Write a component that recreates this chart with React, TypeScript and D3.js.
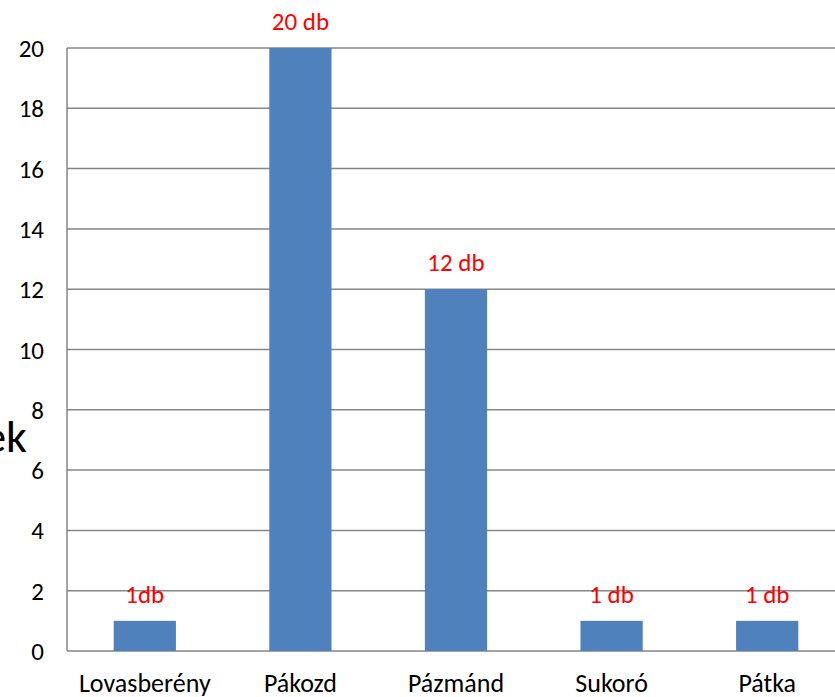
import React from "react";
import * as d3 from "d3";

const categories = ["Lovasberény", "Pákozd", "Pázmánd", "Sukoró", "Pátka"];
const values = [1, 20, 12, 1, 1];
const dataLabels = ["1db", "20 db", "12 db", "1 db", "1 db"];
const yTicks = [0, 2, 4, 6, 8, 10, 12, 14, 16, 18, 20];
const axisTitleFragment = "ek";

const W = 835;
const H = 697;
const FONT = "Carlito, Calibri, Lato, 'Open Sans', sans-serif";

export default function App() {
  const left = 67;
  const bandW = 155.6;
  const x = d3
    .scaleBand<string>()
    .domain(categories)
    .range([left, left + bandW * categories.length])
    .paddingInner(0)
    .paddingOuter(0);
  const y = d3.scaleLinear().domain([0, 20]).range([651, 48]);
  const barW = x.bandwidth() * 0.4;
  const grid = "#868686";

  return (
    <svg
      width={W}
      height={H}
      style={{ position: "absolute", left: 0, top: 0, background: "#fff" }}
      fontFamily={FONT}
    >
      {yTicks.map((t) => (
        <g key={t}>
          <line x1={left} x2={W} y1={y(t)} y2={y(t)} stroke={grid} strokeWidth={1.5} />
          <text x={44} y={y(t)} dy="0.36em" textAnchor="end" fontSize={25} fill="#000">
            {t}
          </text>
        </g>
      ))}
      <line x1={left} x2={left} y1={y(20)} y2={y(0)} stroke={grid} strokeWidth={1.5} />
      {categories.map((c, i) => {
        const cx = (x(c) as number) + x.bandwidth() / 2;
        return (
          <g key={c}>
            <rect
              x={cx - barW / 2}
              y={y(values[i])}
              width={barW}
              height={y(0) - y(values[i])}
              fill="#4F81BD"
            />
            <text x={cx} y={y(values[i]) - 18} textAnchor="middle" fontSize={25} fill="#FF0000">
              {dataLabels[i]}
            </text>
            <text x={cx} y={692} textAnchor="middle" fontSize={26} fill="#000">
              {c}
            </text>
          </g>
        );
      })}
      <text x={27} y={452} textAnchor="end" fontSize={46} fill="#000">
        {axisTitleFragment}
      </text>
    </svg>
  );
}
